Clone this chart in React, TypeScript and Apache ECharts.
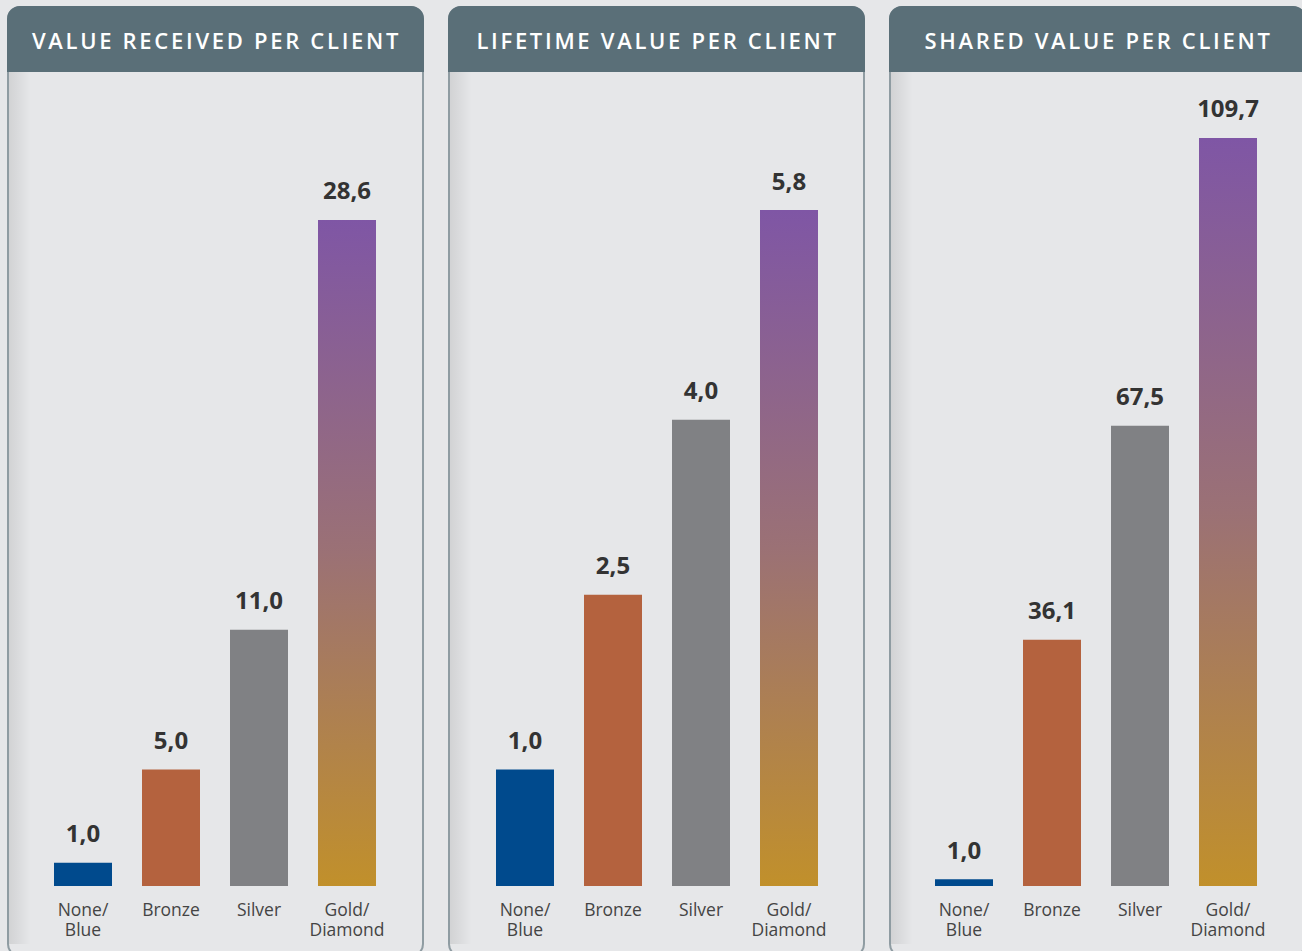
import React, { useEffect, useRef } from "react";
import * as echarts from "echarts";

const categories = ["None/\nBlue", "Bronze", "Silver", "Gold/\nDiamond"];
const titles = ["VALUE RECEIVED PER CLIENT", "LIFETIME VALUE PER CLIENT", "SHARED VALUE PER CLIENT"];
const valueReceived = [1.0, 5.0, 11.0, 28.6];
const lifetimeValue = [1.0, 2.5, 4.0, 5.8];
const sharedValue = [1.0, 36.1, 67.5, 109.7];

const FONT = "'Open Sans', 'Noto Sans', sans-serif";

const panels = [
  { x: 8, title: titles[0], data: valueReceived, axisLeft: 39, yMax: 33.75 },
  { x: 449, title: titles[1], data: lifetimeValue, axisLeft: 481, yMax: 6.744 },
  { x: 890, title: titles[2], data: sharedValue, axisLeft: 920, yMax: 115.27 },
];

const PANEL_W = 415;
const PANEL_TOP = 7;
const PANEL_H = 949;
const HEADER_H = 65;
const BASELINE = 886;

export default function App() {
  const ref = useRef<HTMLDivElement>(null);
  useEffect(() => {
    if (!ref.current) return;
    const chart = echarts.init(ref.current, undefined, { renderer: "svg" });
    const barColors = (i: number) => {
      if (i === 0) return "#004a8d";
      if (i === 1) return "#b4623e";
      if (i === 2) return "#808184";
      return new echarts.graphic.LinearGradient(0, 0, 0, 1, [
        { offset: 0, color: "#7f56a5" },
        { offset: 0.5, color: "#9b7175" },
        { offset: 1, color: "#c1902b" },
      ]);
    };
    const graphics: any[] = [];
    panels.forEach((p) => {
      graphics.push({
        type: "rect",
        shape: { x: p.x, y: PANEL_TOP, width: PANEL_W, height: PANEL_H, r: 12 },
        style: { fill: "#e6e7e9", stroke: "#8f9ca2", lineWidth: 2 },
        z: 0,
      });
      graphics.push({
        type: "rect",
        shape: { x: p.x + 1, y: PANEL_TOP + HEADER_H, width: 22, height: PANEL_H - HEADER_H - 12 },
        style: {
          fill: new echarts.graphic.LinearGradient(0, 0, 1, 0, [
            { offset: 0, color: "rgba(0,0,0,0.09)" },
            { offset: 1, color: "rgba(0,0,0,0)" },
          ]),
        },
        z: 1,
      });
      graphics.push({
        type: "rect",
        shape: { x: p.x - 1, y: PANEL_TOP - 1, width: PANEL_W + 2, height: HEADER_H + 1, r: [13, 13, 0, 0] },
        style: { fill: "#5a6f78" },
        z: 2,
      });
      graphics.push({
        type: "text",
        x: p.x + PANEL_W / 2 + 1,
        y: 39.5,
        style: {
          text: p.title,
          fill: "#ffffff",
          font: `600 22px ${FONT}`,
          textAlign: "center",
          textVerticalAlign: "middle",
        },
        z: 3,
      });
    });

    const grid = panels.map((p) => ({
      left: p.axisLeft,
      width: 352,
      top: 100,
      height: BASELINE - 100,
    }));
    const xAxis = panels.map((_, i) => ({
      type: "category",
      gridIndex: i,
      data: categories,
      axisLine: { show: false },
      axisTick: { show: false },
      axisLabel: {
        interval: 0,
        color: "#444444",
        fontSize: 17.5,
        lineHeight: 20,
        margin: 13,
        fontFamily: FONT,
      },
    }));
    const yAxis = panels.map((p, i) => ({
      type: "value",
      gridIndex: i,
      min: 0,
      max: p.yMax,
      show: false,
      splitLine: { show: false },
    }));
    const series = panels.map((p, i) => ({
      type: "bar",
      xAxisIndex: i,
      yAxisIndex: i,
      barWidth: 58,
      data: p.data.map((v, j) => ({ value: v, itemStyle: { color: barColors(j) } })),
      label: {
        show: true,
        position: "top",
        distance: 18,
        formatter: (d: any) => Number(d.value).toFixed(1).replace(".", ","),
        fontFamily: FONT,
        fontWeight: "bold",
        fontSize: 24,
        color: "#333333",
      },
      z: 5,
    }));

    chart.setOption({
      animation: false,
      backgroundColor: "#e6e7e9",
      graphic: graphics,
      grid,
      xAxis,
      yAxis,
      series,
    } as any);

    const applySpacing = () => {
      const texts = ref.current?.querySelectorAll("text") || [];
      texts.forEach((t) => {
        if (titles.includes((t.textContent || "").trim())) {
          t.setAttribute("letter-spacing", "2.7px");
          t.style.letterSpacing = "2.7px";
        }
      });
    };
    applySpacing();
    chart.on("finished", applySpacing);

    return () => chart.dispose();
  }, []);
  return (
    <div
      ref={ref}
      style={{ position: "fixed", left: 0, top: 0, width: 1302, height: 951 }}
    />
  );
}
